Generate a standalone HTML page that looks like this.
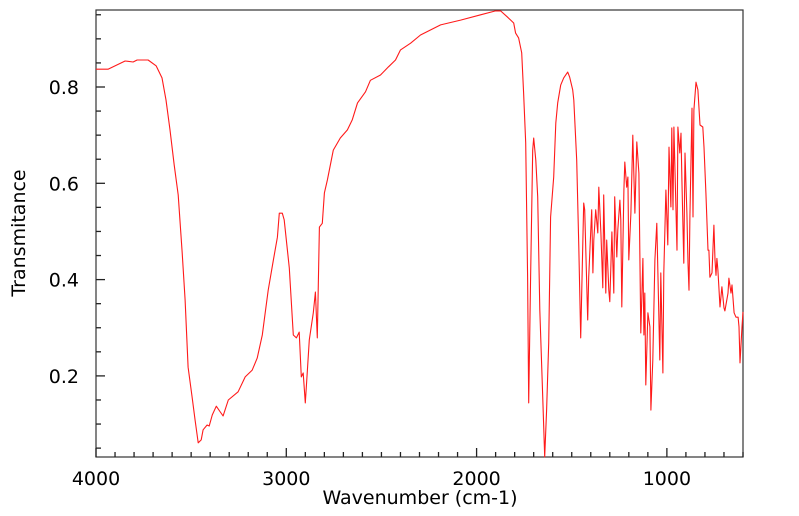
<!DOCTYPE html>
<html><head><meta charset="utf-8"><style>
body{margin:0;background:#fff;}
svg{display:block;font-family:"DejaVu Sans","Liberation Sans",sans-serif;}
</style></head><body>
<svg id="chart" width="799" height="516" viewBox="0 0 799 516"></svg>
<script>
const wavenumbers=[4000,3937,3847,3805,3784,3726,3684,3653,3632,3611,3589,3568,3547,3532,3516,3495,3479,3463,3447,3437,3416,3405,3389,3368,3347,3332,3305,3253,3216,3179,3153,3126,3111,3095,3068,3047,3037,3021,3011,2984,2963,2947,2932,2921,2911,2900,2889,2879,2858,2847,2837,2826,2811,2800,2784,2753,2716,2679,2653,2626,2584,2558,2505,2463,2426,2400,2347,2295,2189,2084,1979,1900,1874,1837,1821,1805,1795,1779,1763,1753,1742,1732,1726,1716,1705,1700,1689,1679,1668,1653,1642,1632,1621,1611,1595,1584,1574,1558,1542,1521,1511,1495,1489,1474,1463,1453,1437,1432,1416,1411,1395,1389,1384,1374,1363,1358,1347,1337,1332,1321,1316,1305,1300,1289,1279,1274,1263,1258,1247,1242,1237,1226,1221,1211,1205,1200,1189,1179,1168,1158,1147,1137,1126,1121,1116,1111,1100,1089,1084,1074,1063,1053,1047,1037,1032,1021,1016,1005,995,989,979,974,968,963,953,947,942,932,926,921,911,905,895,889,884,879,868,863,858,847,837,826,811,805,795,784,779,774,763,753,747,742,737,732,721,711,700,695,679,674,663,658,647,637,626,621,616,605,600];
const transmittance=[0.837,0.837,0.854,0.852,0.856,0.856,0.844,0.819,0.773,0.711,0.638,0.576,0.455,0.358,0.218,0.156,0.108,0.061,0.067,0.088,0.098,0.096,0.119,0.137,0.125,0.117,0.150,0.167,0.198,0.212,0.237,0.285,0.331,0.378,0.441,0.488,0.538,0.538,0.524,0.424,0.285,0.279,0.291,0.198,0.206,0.144,0.212,0.275,0.331,0.374,0.279,0.509,0.517,0.580,0.607,0.669,0.694,0.711,0.732,0.767,0.790,0.814,0.825,0.842,0.856,0.877,0.891,0.908,0.929,0.939,0.950,0.958,0.958,0.945,0.939,0.933,0.912,0.902,0.871,0.788,0.684,0.405,0.144,0.405,0.669,0.694,0.648,0.572,0.337,0.164,0.032,0.129,0.268,0.530,0.613,0.725,0.767,0.804,0.819,0.831,0.821,0.794,0.773,0.648,0.468,0.279,0.559,0.545,0.316,0.405,0.545,0.414,0.482,0.545,0.497,0.592,0.497,0.383,0.576,0.372,0.482,0.378,0.354,0.499,0.372,0.572,0.447,0.503,0.565,0.524,0.343,0.586,0.644,0.592,0.613,0.441,0.538,0.700,0.538,0.686,0.621,0.289,0.444,0.285,0.372,0.181,0.331,0.302,0.129,0.233,0.441,0.517,0.414,0.233,0.414,0.206,0.414,0.586,0.472,0.675,0.551,0.715,0.545,0.717,0.559,0.461,0.717,0.663,0.704,0.607,0.434,0.663,0.538,0.434,0.378,0.530,0.756,0.530,0.752,0.810,0.794,0.721,0.717,0.675,0.580,0.461,0.461,0.405,0.414,0.513,0.441,0.409,0.444,0.420,0.343,0.385,0.341,0.335,0.372,0.403,0.372,0.389,0.331,0.322,0.322,0.302,0.227,0.302,0.333];
const xTicks=[4000,3000,2000,1000];
const yTicks=[0.2,0.4,0.6,0.8];

const L=96,R=743,T=10,B=457;
const xs=w=>L+(4000-w)*(R-L)/3400;
const ys=v=>87+(0.8-v)*481.5;
const svg=document.getElementById('chart');
const NS='http://www.w3.org/2000/svg';
function mk(tag,attrs){const e=document.createElementNS(NS,tag);for(const k in attrs)e.setAttribute(k,attrs[k]);svg.appendChild(e);return e;}

const frame=mk('rect',{x:L,y:T,width:R-L,height:B-T,fill:'none',stroke:'#333','stroke-width':1.2});



for(let w=4000;w>=600;w-=100){
  const major=w%1000===0;
  const t=mk('line',{x1:xs(w),x2:xs(w),y1:B,y2:B-(major?9:5),stroke:'#222','stroke-width':1.3});
  
  
}
xTicks.forEach(w=>{
  const t=mk('text',{x:xs(w),y:485,'text-anchor':'middle','font-size':19,fill:'#000'});
  t.textContent=String(w);
  
  
});
for(let i=1;i<=19;i++){
  const v=i*0.05;const y=ys(v);
  if(y<T-0.5||y>B+0.5)continue;
  const major=i%4===0;
  const t=mk('line',{x1:L,x2:L+(major?9:5),y1:y,y2:y,stroke:'#222','stroke-width':1.3});
  
  
}
yTicks.forEach(v=>{
  const t=mk('text',{x:79,y:ys(v)+7,'text-anchor':'end','font-size':19,fill:'#000'});
  t.textContent=v.toFixed(1);
  
  
});
const xt=mk('text',{x:420,y:504,'text-anchor':'middle','font-size':19,fill:'#000'});
xt.textContent='Wavenumber (cm-1)';


const yt=mk('text',{x:0,y:0,'text-anchor':'middle','font-size':19,fill:'#000',transform:'translate(25,233) rotate(-90)'});
yt.textContent='Transmitance';



const pts=wavenumbers.map((w,i)=>xs(w).toFixed(1)+','+ys(transmittance[i]).toFixed(1)).join(' ');
const line=mk('polyline',{points:pts,fill:'none',stroke:'#ff1a1a','stroke-width':1.1,'stroke-linejoin':'round'});


</script>
</body></html>
